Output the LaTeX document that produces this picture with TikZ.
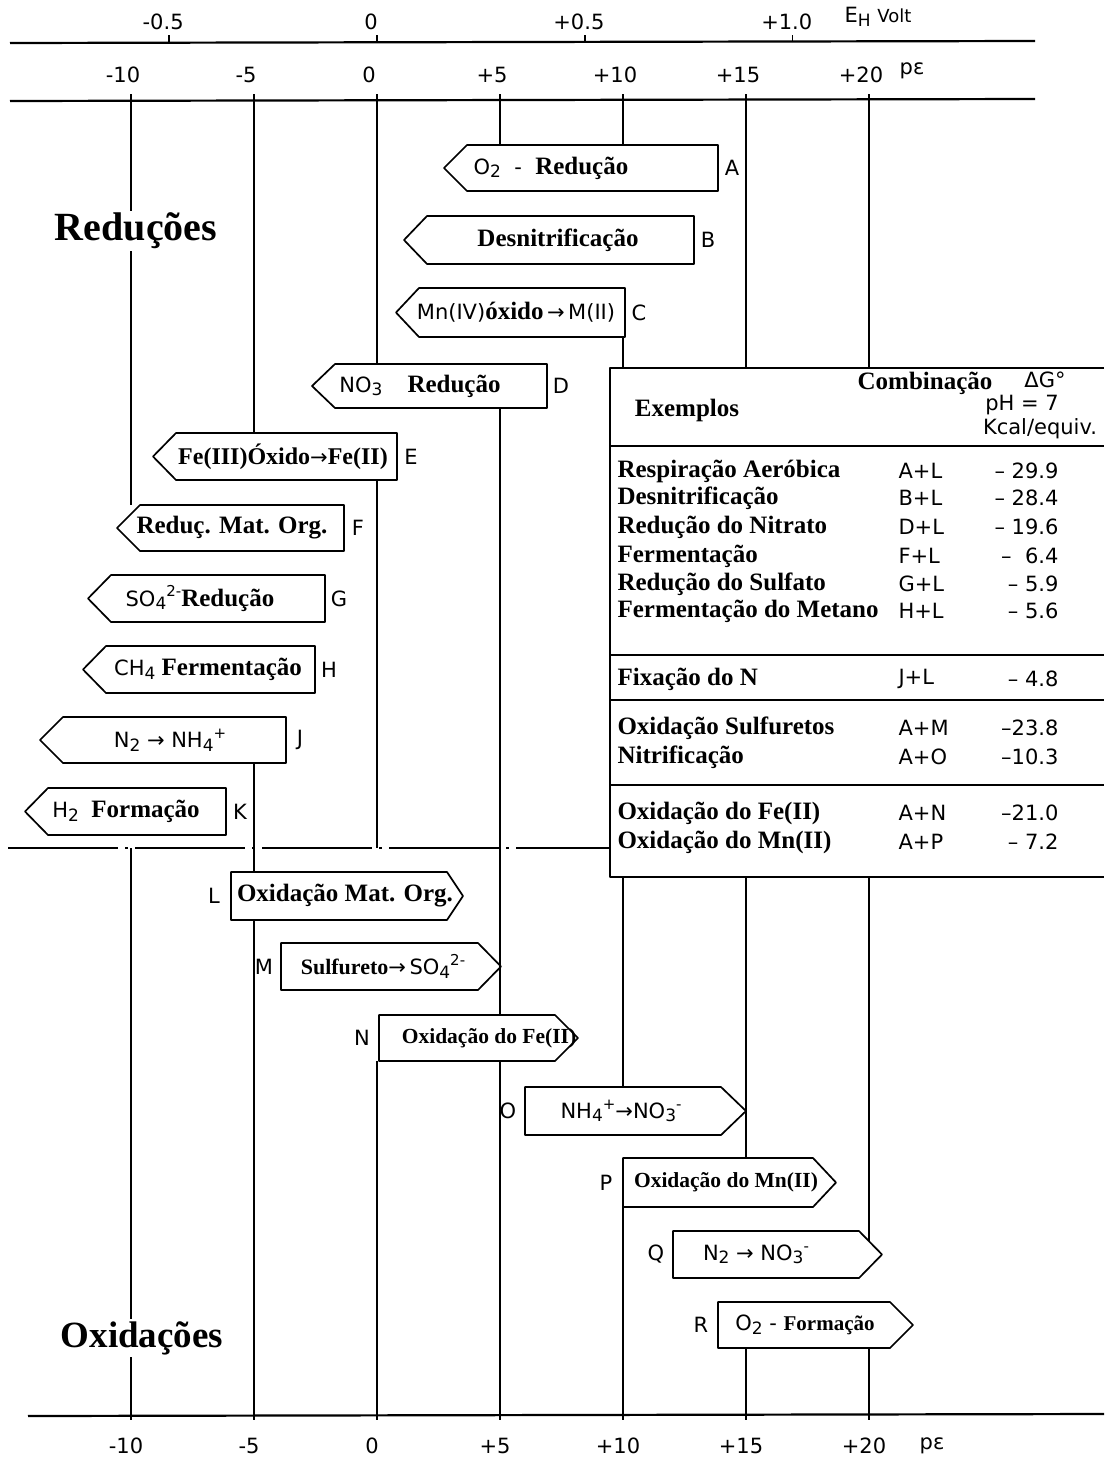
\documentclass[tikz,border=0pt]{standalone}
\usepackage{fontspec}
\setmainfont{Liberation Serif}
\newfontfamily\lettering{DejaVu Sans}
\usetikzlibrary{calc}
\newcommand{\ltr}[1]{{\lettering\mdseries\fontsize{21}{24}\selectfont #1}}
\newcommand{\idx}[1]{\raisebox{-0.3ex}{\fontsize{17}{17}\selectfont #1}}
\newcommand{\chg}[1]{\raisebox{0.8ex}{\fontsize{15}{15}\selectfont #1}}

\begin{document}
\begin{tikzpicture}[x=1pt,y=-1pt,
  axis/.style={line width=2.2pt},
  vline/.style={line width=1.5pt},
  box/.style={line width=1.7pt,line join=round},
  dashdot/.style={line width=2pt,dash pattern=on 110pt off 7pt on 3pt off 7pt},
  bf/.style={font=\fontsize{25}{28}\selectfont\bfseries},
  lt/.style={font=\fontsize{21}{24}\selectfont\lettering}]
\fill[white] (0,0) rectangle (1104,1459);
\useasboundingbox (0,0) rectangle (1104,1459);
\draw[axis] (10,43)--(1035,41);
\draw[axis] (10,101)--(1035,99);
\draw[axis] (28,1416)--(1104,1414);
\foreach \v/\s/\k in {-0.5/-0.5/1,0/0/2,0.5/+0.5/3,1/+1.0/4}{
  \coordinate (e\k) at ({377+24.6*16.9*\v},42);
  \draw[vline] (e\k)--++(0,-7);
  \node[lt] (te\k) at ($(e\k)+(-6,-20)$) {\s};
}
\node[lt] (eh) at (878,17) {E\idx{H}\ {\fontsize{18}{20}\selectfont Volt}};
\foreach \p/\s in {-10/-10,-5/-5,0/0,5/+5,10/+10,15/+15,20/+20}{
  \coordinate (u\p) at ({377+24.6*\p},100);
  \coordinate (d\p) at ({377+24.6*\p},1415);
  \node[lt] (tu\p) at ($(u\p)+(-8,-25)$) {\s};
  \node[lt] (td\p) at ($(d\p)+(-5,31)$) {\s};
  \draw[vline] (u\p)--++(0,-6);
  \draw[vline] (d\p)--++(0,5);
}
\node[lt] (pe1) at (912,71) {pε};
\node[lt] (pe2) at (932,1446) {pε};
\coordinate (tab-t) at (610,368);
\coordinate (tab-b) at (610,877);
\coordinate (mid) at (8,848);
\draw[dashdot] (mid)--(mid -| tab-t);
\draw[box] (1104,368)--(610,368)--(610,877)--(1104,877);
\foreach \y in {446,655,700,785} \draw[box] (610,\y)--(1104,\y);
\foreach \n/\xl/\xr/\yt/\yb/\xc/\txt in {
  A/444/718/145/191/551/{\ltr{O\idx{2}\ \ -\ \ }Redução},
  B/404/694/216/264/558/{Desnitrificação},
  C/396/625/288/337/516/{\ltr{Mn(IV)}óxido\ltr{\,→\,M(II)}},
  D/312/547/364/408/420/{\ltr{NO\idx{3}}\quad Redução},
  E/153/397/433/480/283/{{\fontsize{24}{26}\selectfont Fe(III)Óxido\ltr{→}Fe(II)}},
  F/117/344/505/551/232/{Reduç. Mat. Org.},
  G/88/325/575/622/200/{\ltr{SO\idx{4}\chg{2-}}Redução},
  H/83/315/646/693/208/{\ltr{CH\idx{4}}\ Fermentação},
  J/40/286/717/763/170/{\ltr{N\idx{2}\ →\ NH\idx{4}\chg{+}}},
  K/25/226/788/835/126/{\ltr{H\idx{2}}\ \ Formação}}
{
  \draw[box] (\xl,{(\yt+\yb)/2})--(\xl+23,\yt)--(\xr,\yt)--(\xr,\yb)--(\xl+23,\yb)--cycle;
  \node[bf] (\n) at (\xc,{(\yt+\yb)/2}) {\txt};
  \node[lt] (\n-lab) at (\xr+14,{(\yt+\yb)/2}) {\n};
  \coordinate (\n-t) at (\xr,\yt);
  \coordinate (\n-b) at (\xr,\yb);
}
\foreach \n/\xl/\xr/\yt/\yb/\dep/\xc/\txt in {
  L/231/463/872/920/16/345/{Oxidação Mat. Org.},
  M/281/501/943/990/23/383/{{\fontsize{22}{24}\selectfont Sulfureto}\ltr{→\,SO\idx{4}\chg{2-}}},
  N/379/578/1015/1061/23/489/{{\fontsize{21.5}{23}\selectfont Oxidação do Fe(II)}},
  O/525/746/1087/1135/25/621/{\ltr{NH\idx{4}\chg{+}→NO\idx{3}\chg{-}}},
  P/623/836/1158/1207/23/726/{{\fontsize{21.5}{23}\selectfont Oxidação do Mn(II)}},
  Q/673/882/1231/1278/23/756/{\ltr{N\idx{2}\ →\ NO\idx{3}\chg{-}}},
  R/718/913/1302/1348/23/805/{\ltr{O\idx{2}\ -\ }{\fontsize{21}{23}\selectfont Formação}}}
{
  \draw[box] (\xl,\yt)--(\xr-\dep,\yt)--(\xr,{(\yt+\yb)/2})--(\xr-\dep,\yb)--(\xl,\yb)--cycle;
  \node[bf] (\n) at (\xc,{(\yt+\yb)/2}) {\txt};
  \node[lt] (\n-lab) at (\xl-17,{(\yt+\yb)/2}) {\n};
  \coordinate (\n-t) at (\xl,\yt);
  \coordinate (\n-b) at (\xl,\yb);
}
\draw[vline] (u-10)--(u-10 |- F-t);
\draw[vline] (u-5)--(u-5 |- E-t);
\draw[vline] (u0)--(u0 |- D-t);
\draw[vline] (u5)--(u5 |- A-t);
\draw[vline] (u10)--(u10 |- A-t);
\draw[vline] (u15)--(u15 |- tab-t);
\draw[vline] (u20)--(u20 |- tab-t);
\draw[vline] (u10 |- C-b)--(u10 |- tab-t);
\draw[vline] (u0 |- E-b)--(u0 |- mid);
\draw[vline] (u5 |- D-b)--(u5 |- N-t);
\draw[vline] (u-5 |- J-b)--(u-5 |- L-t);
\draw[vline] (d-5 |- L-b)--(d-5);
\draw[vline] (d-10 |- mid)--(d-10);
\draw[vline] (d0 |- N-b)--(d0);
\draw[vline] (d5 |- N-b)--(d5);
\draw[vline] (u10 |- tab-b)--(u10 |- O-t);
\draw[vline] (d10 |- P-b)--(d10);
\draw[vline] (u15 |- tab-b)--(u15 |- P-t);
\draw[vline] (u20 |- tab-b)--($(u20 |- Q-t)+(0,10)$);
\draw[vline] (d15 |- R-b)--(d15);
\draw[vline] (d20 |- R-b)--(d20);
\node[fill=white,inner sep=2pt,font=\fontsize{40}{44}\selectfont\bfseries] (red) at (136,231) {Reduções};
\node[fill=white,inner sep=2pt,font=\fontsize{37}{42}\selectfont\bfseries] (oxi) at (142,1338) {Oxidações};
\node[bf] (comb) at (925,383) {Combinação};
\node[lt] (dg) at (1045,380) {ΔG°};
\node[lt] (ph) at (1022,405) {pH = 7};
\node[lt] (kc) at (1040,429) {Kcal/equiv.};
\node[bf] (ex) at (687,410) {Exemplos};
\foreach \y/\nm/\cmb/\val in {471/Respiração Aeróbica/A+L/– 29.9,
  498/Desnitrificação/B+L/– 28.4, 527/Redução do Nitrato/D+L/– 19.6,
  556/Fermentação/F+L/– \ 6.4, 584/Redução do Sulfato/G+L/– 5.9,
  611/Fermentação do Metano/H+L/– 5.6, 679/Fixação do N/J+L/– 4.8,
  728/Oxidação Sulfuretos/A+M/–23.8, 757/Nitrificação/A+O/–10.3,
  813/Oxidação do Fe(II)/A+N/–21.0, 842/Oxidação do Mn(II)/A+P/– 7.2}
{
  \node[bf,anchor=west] (row\y) at (614,\y) {\nm};
  \node[lt,anchor=west] (cmb\y) at (895,\y) {\cmb};
  \node[lt,anchor=east] (val\y) at (1062,\y) {\val};
}
\end{tikzpicture}
\end{document}
